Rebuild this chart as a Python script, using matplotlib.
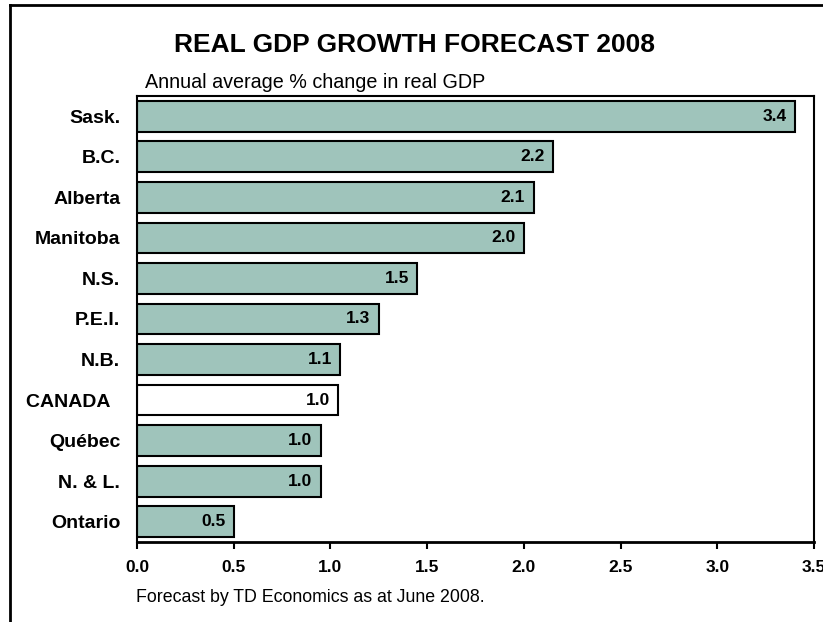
import matplotlib.pyplot as plt
from matplotlib.lines import Line2D

plt.rcParams['font.family'] = ['Liberation Sans', 'DejaVu Sans']

# Data, top to bottom as in the chart
provinces = ['Sask.', 'B.C.', 'Alberta', 'Manitoba', 'N.S.', 'P.E.I.', 'N.B.',
             'CANADA  ', 'Québec', 'N. & L.', 'Ontario']
growth = [3.4, 2.15, 2.05, 2.0, 1.45, 1.25, 1.05, 1.04, 0.95, 0.95, 0.5]
value_labels = ['3.4', '2.2', '2.1', '2.0', '1.5', '1.3', '1.1', '1.0', '1.0', '1.0', '0.5']
xticks = [0.0, 0.5, 1.0, 1.5, 2.0, 2.5, 3.0, 3.5]

bar_color = '#9fc4bb'
colors = ['white' if p.strip() == 'CANADA' else bar_color for p in provinces]

fig = plt.figure(figsize=(8.23, 6.22), dpi=100)
ax = fig.add_axes([137 / 823, 1 - 542 / 622, (814 - 137) / 823, (542 - 96) / 622])

ypos = list(range(len(provinces)))
ax.barh(ypos, growth, height=0.76, color=colors, edgecolor='black', linewidth=1.5)
ax.set_ylim(len(provinces) - 0.5, -0.5)
ax.set_xlim(0, 3.5)

ax.set_yticks(ypos)
ax.set_yticklabels(provinces, fontsize=14, fontweight='bold')
ax.tick_params(axis='y', length=0, pad=12)
ax.set_xticks(xticks)
ax.set_xticklabels([f'{t:.1f}' for t in xticks], fontsize=12.5, fontweight='bold')
ax.tick_params(axis='x', direction='out', length=5, width=1.5, pad=8)

for sp in ax.spines.values():
    sp.set_linewidth(1.5)
ax.spines['bottom'].set_linewidth(2)

for y, v, lab in zip(ypos, growth, value_labels):
    ax.annotate(lab, (v, y), xytext=(-6, 0), textcoords='offset points',
                ha='right', va='center', fontsize=12.5, fontweight='bold')

fig.text(414 / 823, 1 - 45 / 622, 'REAL GDP GROWTH FORECAST 2008',
         ha='center', va='center', fontsize=19, fontweight='bold')
fig.text(145 / 823, 1 - 83 / 622, 'Annual average % change in real GDP',
         ha='left', va='center', fontsize=14.2)
fig.text(136 / 823, 1 - 597 / 622, 'Forecast by TD Economics as at June 2008.',
         ha='left', va='center', fontsize=12.8)

# outer frame (left and top edges visible in the crop)
fig.add_artist(Line2D([10 / 823, 10 / 823], [0, 1 - 5 / 622], color='black', lw=2,
                      transform=fig.transFigure))
fig.add_artist(Line2D([10 / 823, 1], [1 - 5 / 622, 1 - 5 / 622], color='black', lw=2,
                      transform=fig.transFigure))

fig.savefig('out.png', dpi=100)
